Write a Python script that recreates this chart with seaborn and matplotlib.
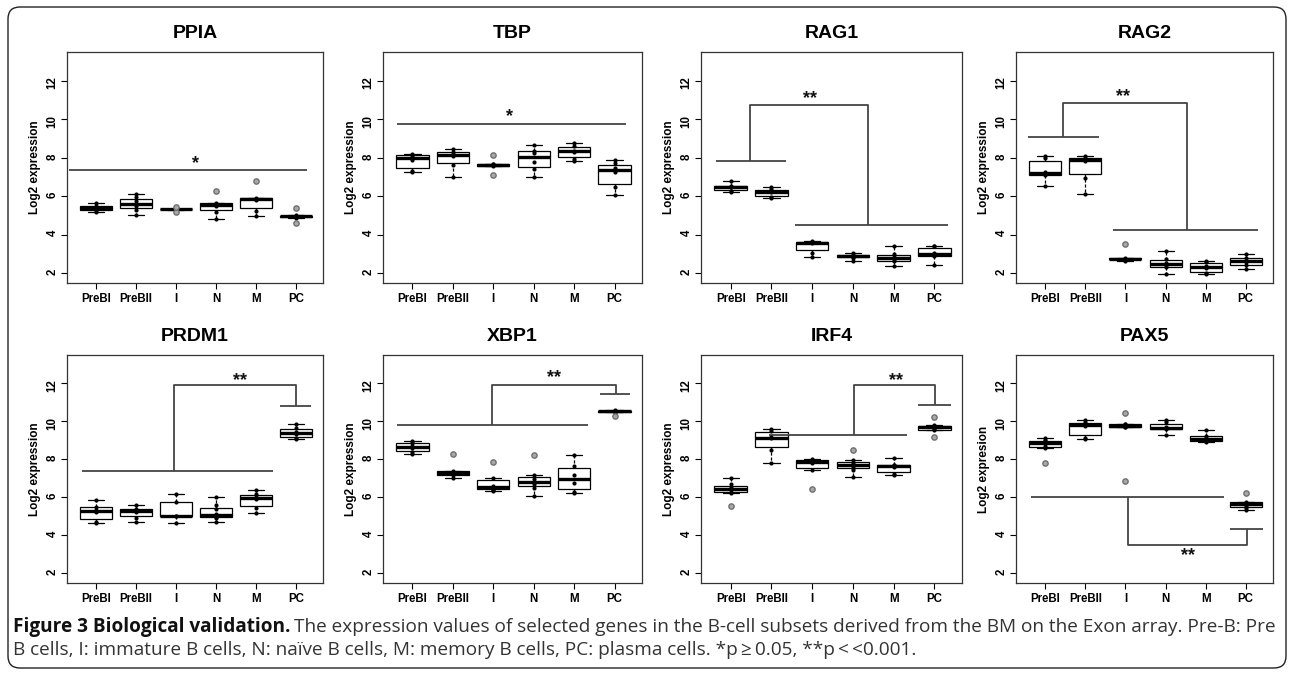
import numpy as np
import pandas as pd
import matplotlib
matplotlib.use("Agg")
import matplotlib.pyplot as plt
import seaborn as sns
from matplotlib.patches import FancyBboxPatch
from matplotlib.transforms import IdentityTransform

# ---------------- data (log2 expression per sample) ----
groups = ["PreBI", "PreBII", "I", "N", "M", "PC"]
genes = ["PPIA", "TBP", "RAG1", "RAG2", "PRDM1", "XBP1", "IRF4", "PAX5"]

PPIA = [[5.2, 5.28, 5.4, 5.5, 5.62],
        [5.0, 5.3, 5.5, 5.6, 5.75, 5.95, 6.1],
        [5.15, 5.3, 5.32, 5.33, 5.35, 5.42],
        [4.8, 5.2, 5.5, 5.6, 5.65, 6.28],
        [4.95, 5.25, 5.8, 5.85, 5.9, 6.8],
        [4.6, 4.88, 4.92, 4.95, 4.98, 5.0, 5.4]]
TBP = [[7.25, 7.3, 7.9, 8.05, 8.15, 8.2],
       [7.0, 7.6, 8.1, 8.2, 8.3, 8.45],
       [7.1, 7.58, 7.6, 7.65, 7.68, 8.15],
       [7.0, 7.4, 7.8, 8.25, 8.35, 8.65],
       [7.85, 7.95, 8.3, 8.35, 8.6, 8.75],
       [6.05, 6.45, 7.25, 7.45, 7.7, 7.9]]
RAG1 = [[6.2, 6.25, 6.45, 6.5, 6.55, 6.77],
        [5.9, 5.95, 6.2, 6.25, 6.35, 6.5],
        [2.85, 3.05, 3.55, 3.6, 3.62, 3.68],
        [2.65, 2.8, 2.85, 2.9, 2.95, 3.05],
        [2.35, 2.6, 2.75, 2.85, 3.0, 3.38],
        [2.42, 2.88, 2.95, 3.05, 3.38, 3.42]]
RAG2 = [[6.55, 7.1, 7.2, 7.25, 8.0, 8.08],
        [6.1, 6.95, 7.85, 7.9, 8.0, 8.1],
        [2.65, 2.7, 2.72, 2.75, 2.78, 3.5],
        [1.95, 2.3, 2.4, 2.5, 2.75, 3.15],
        [1.95, 2.0, 2.25, 2.35, 2.55, 2.6],
        [2.2, 2.4, 2.55, 2.65, 2.8, 3.0]]
PRDM1 = [[4.65, 4.72, 5.2, 5.35, 5.5, 5.85],
         [4.68, 4.92, 5.2, 5.3, 5.38, 5.58],
         [4.65, 5.0, 5.0, 5.75, 6.15],
         [4.68, 4.92, 4.95, 5.0, 5.1, 5.4, 5.6, 6.0],
         [5.18, 5.45, 5.9, 6.0, 6.15, 6.38],
         [9.05, 9.12, 9.35, 9.45, 9.65, 9.85]]
XBP1 = [[8.3, 8.4, 8.6, 8.7, 8.88, 8.95],
        [7.0, 7.15, 7.25, 7.3, 7.4, 8.27],
        [6.35, 6.4, 6.45, 6.6, 7.0, 7.85],
        [6.08, 6.5, 6.7, 6.8, 6.98, 7.15, 8.22],
        [6.25, 6.3, 6.75, 7.2, 7.65, 8.25],
        [10.3, 10.5, 10.52, 10.55, 10.55, 10.58]]
IRF4 = [[5.56, 6.25, 6.3, 6.45, 6.55, 6.68, 7.0],
        [7.8, 8.5, 9.1, 9.2, 9.5, 9.58],
        [6.45, 7.45, 7.8, 7.9, 7.98, 8.0],
        [7.07, 7.45, 7.55, 7.65, 7.7, 7.8, 7.95, 8.48],
        [7.18, 7.25, 7.6, 7.68, 7.72, 8.05],
        [9.18, 9.52, 9.6, 9.7, 9.75, 9.8, 10.22]]
PAX5 = [[7.82, 8.6, 8.7, 8.85, 8.95, 9.02, 9.1],
        [9.05, 9.12, 9.75, 9.85, 9.95, 10.05],
        [6.85, 9.7, 9.72, 9.75, 9.8, 9.85, 9.88, 10.45],
        [9.28, 9.6, 9.65, 9.7, 9.95, 10.08],
        [8.9, 8.95, 9.0, 9.1, 9.25, 9.52],
        [5.35, 5.45, 5.55, 5.62, 5.7, 5.75, 6.2]]

values = {"PPIA": PPIA, "TBP": TBP, "RAG1": RAG1, "RAG2": RAG2,
          "PRDM1": PRDM1, "XBP1": XBP1, "IRF4": IRF4, "PAX5": PAX5}
ylabels = {g: "Log2 expression" for g in genes}
ylabels["PAX5"] = "Log2 expresion"

# significance annotations: polylines (category units, y) and star label
sig_lines = {
    "PPIA": [[(-0.67, 7.34), (5.28, 7.34)]],
    "TBP": [[(-0.38, 9.76), (5.29, 9.76)]],
    "RAG1": [[(-0.36, 7.84), (1.35, 7.84)],
             [(0.47, 7.84), (0.47, 10.75), (3.38, 10.75), (3.38, 4.51)],
             [(1.57, 4.51), (5.33, 4.51)]],
    "RAG2": [[(-0.43, 9.1), (1.34, 9.1)],
             [(0.45, 9.1), (0.45, 10.87), (3.53, 10.87), (3.53, 4.25)],
             [(1.69, 4.25), (5.3, 4.25)]],
    "PRDM1": [[(-0.36, 7.38), (4.43, 7.38)],
              [(1.96, 7.38), (1.96, 11.93), (5.0, 11.93), (5.0, 10.8)],
              [(4.6, 10.8), (5.37, 10.8)]],
    "XBP1": [[(-0.38, 9.82), (4.35, 9.82)],
             [(1.98, 9.82), (1.98, 11.93), (5.03, 11.93), (5.03, 11.45)],
             [(4.64, 11.45), (5.39, 11.45)]],
    "IRF4": [[(0.94, 9.3), (4.32, 9.3)],
             [(3.03, 9.3), (3.03, 11.93), (5.02, 11.93), (5.02, 10.88)],
             [(4.61, 10.88), (5.41, 10.88)]],
    "PAX5": [[(-0.36, 6.0), (4.46, 6.0)],
             [(2.06, 6.0), (2.06, 3.49), (5.02, 3.49), (5.02, 4.32)],
             [(4.6, 4.32), (5.44, 4.32)]],
}
sig_text = {"PPIA": ("*", 2.5, 7.7), "TBP": ("*", 2.4, 10.15),
            "RAG1": ("**", 1.94, 11.1), "RAG2": ("**", 1.95, 11.2),
            "PRDM1": ("**", 3.6, 12.15), "XBP1": ("**", 3.49, 12.3),
            "IRF4": ("**", 4.05, 12.15), "PAX5": ("**", 3.55, 2.95)}

# ---------------- layout ------------------------------------------------------
sns.set_style("white")
plot_font = ["Liberation Sans", "DejaVu Sans"]
plt.rcParams["font.family"] = plot_font
plt.rcParams["text.color"] = "black"
plt.rcParams["axes.labelcolor"] = "black"

W, H = 1290, 674
fig = plt.figure(figsize=(W / 100, H / 100), dpi=100)
fig.patch.set_facecolor("white")


def add_ax(l, t, r, b):
    return fig.add_axes([l / W, 1 - b / H, (r - l) / W, (b - t) / H])


cols = [(67, 323), (383, 642), (701, 962), (1016, 1273)]
rows = [(52, 283), (355, 583)]

for k, gene in enumerate(genes):
    r, c = divmod(k, 4)
    ax = add_ax(cols[c][0], rows[r][0], cols[c][1], rows[r][1])
    recs = [(grp, v) for grp, vals in zip(groups, values[gene]) for v in vals]
    df = pd.DataFrame(recs, columns=["group", "value"])

    sns.boxplot(data=df, x="group", y="value", order=groups, ax=ax,
                width=0.8, color="white", linecolor="black", linewidth=0.9,
                whis=1.5, fliersize=3.8,
                flierprops=dict(marker="o", markerfacecolor="#a8a8a8",
                                markeredgecolor="#707070", zorder=6),
                medianprops=dict(linewidth=2.4, color="black"),
                whiskerprops=dict(linestyle=(0, (2.5, 1.5))))
    sns.stripplot(data=df, x="group", y="value", order=groups, ax=ax,
                  jitter=False, color="black", size=3.0, linewidth=0,
                  zorder=5)

    for line in sig_lines[gene]:
        xs, ys = zip(*line)
        ax.plot(xs, ys, color="#444444", lw=1.3, zorder=3,
                solid_capstyle="butt")
    s, sx, sy = sig_text[gene]
    ax.text(sx, sy, s, ha="center", va="center", fontsize=13,
            fontweight="bold", color="#111111", family=plot_font)

    ax.set_xlim(-0.73, 5.68)
    ax.set_ylim(1.48, 13.5)
    ax.set_yticks([2, 4, 6, 8, 10, 12])
    ax.set_xlabel("")
    ax.set_ylabel(ylabels[gene], fontsize=8.5, fontweight="bold", labelpad=4,
                  family=plot_font, color="black")
    ax.set_title(gene, fontsize=14, fontweight="bold", pad=10,
                 family=plot_font, color="black")
    ax.tick_params(axis="both", direction="out", length=4, width=0.8,
                   labelsize=8.3, colors="black", bottom=True, left=True)
    ax.tick_params(axis="y", labelrotation=90, pad=2)
    ax.tick_params(axis="x", pad=3)
    for lab in ax.get_xticklabels() + ax.get_yticklabels():
        lab.set_fontweight("bold")
        lab.set_family(plot_font)
    for sp in ax.spines.values():
        sp.set_visible(True)
        sp.set_color("#333333")
        sp.set_linewidth(0.9)

# rounded frame around the figure
frame = FancyBboxPatch((8, H - 668), 1278, 661,
                       boxstyle="round,pad=0,rounding_size=12",
                       transform=IdentityTransform(), fill=False,
                       edgecolor="#222222", linewidth=1.0)
fig.patches.append(frame)

# caption
cap_font = ["Open Sans", "DejaVu Sans"]
cap_size = 13.65
fig.canvas.draw()
renderer = fig.canvas.get_renderer()
t1 = fig.text(13 / W, 1 - 627 / H, "Figure 3 Biological validation.",
              fontsize=cap_size, fontweight="bold", family=cap_font,
              color="#111111", va="center", ha="left")
bb = t1.get_window_extent(renderer)
fig.text((bb.x1 + 4) / W, 1 - 627 / H,
         "The expression values of selected genes in the B-cell subsets derived "
         "from the BM on the Exon array. Pre-B: Pre",
         fontsize=cap_size, family=cap_font, color="#333333", va="center",
         ha="left")
fig.text(13 / W, 1 - 650 / H,
         "B cells, I: immature B cells, N: naïve B cells, M: memory B cells, "
         "PC: plasma cells. *p\u2009\u2265\u20090.05, **p\u2009<\u2009<0.001.",
         fontsize=cap_size, family=cap_font, color="#333333", va="center",
         ha="left")

fig.savefig("out.png", dpi=100, facecolor="white")
